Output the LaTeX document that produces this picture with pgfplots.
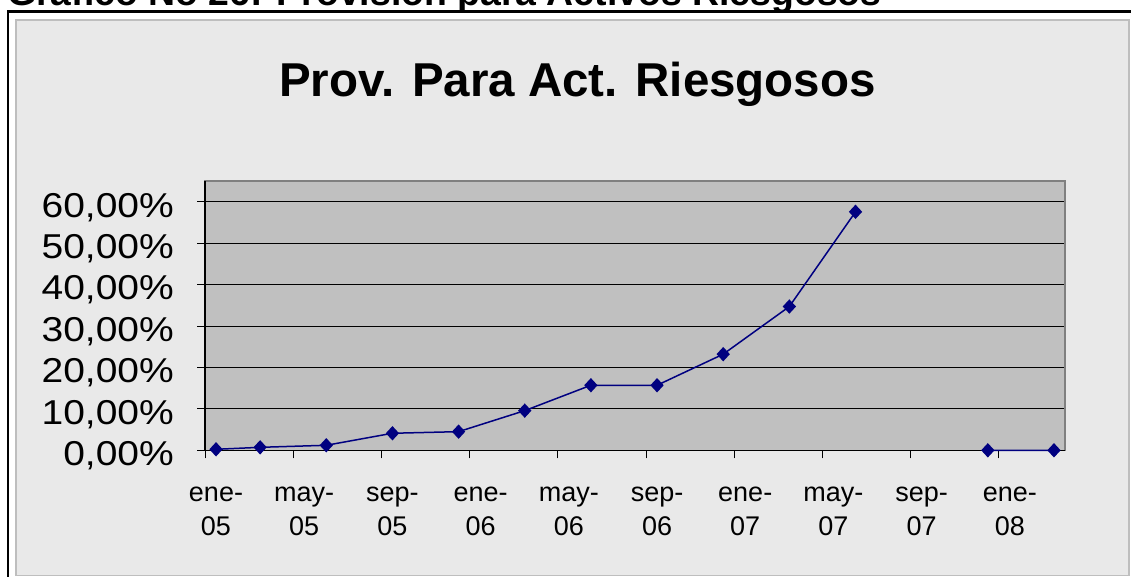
\documentclass[border=0pt]{standalone}
\usepackage{pgfplots}
\pgfplotsset{compat=1.18}
\usepackage{graphicx}
\usepackage{fontspec}
\setmainfont{Liberation Sans}
\definecolor{plotgray}{RGB}{192,192,192}
\definecolor{bggray}{RGB}{233,233,233}
\definecolor{boxgray}{RGB}{190,190,190}
\definecolor{bordergray}{RGB}{128,128,128}
\definecolor{navyc}{RGB}{0,0,128}
\newcommand{\yl}[1]{\scalebox{1.13}[1]{#1}}
\begin{document}
\begin{tikzpicture}[x=1pt,y=1pt]
\clip (0,0) rectangle (1131,577);
\fill[white] (0,0) rectangle (1131,577);
\node[anchor=base west, inner sep=0pt, font=\fontsize{37.4}{40}\selectfont\bfseries] at (7,571) {Gráfico No 26: Provisión para Activos Riesgosos};
\fill[white] (7,0) rectangle (1131,566);
\draw[line width=2.5pt] (7.8,0) -- (7.8,565.7) -- (1132,565.7);
\fill[bggray,draw=boxgray,line width=1.7pt] (15.8,1.5) rectangle (1128.8,556.8);
\node[anchor=base, inner sep=0pt, font=\fontsize{47.5}{50}\selectfont\bfseries] at (577.5,480.3) {Prov. Para Act. Riesgosos};
\begin{axis}[
  at={(205pt,126.7pt)}, anchor=south west, scale only axis,
  width=860pt, height=269.3pt,
  xmin=0, xmax=39, ymin=0, ymax=65,
  clip=false,
  axis background/.style={fill=plotgray},
  axis line style={draw=bordergray, line width=1.5pt},
  ytick={0,10,...,60},
  yticklabels={{\yl{0,00\%}},{\yl{10,00\%}},{\yl{20,00\%}},{\yl{30,00\%}},{\yl{40,00\%}},{\yl{50,00\%}},{\yl{60,00\%}}},
  xtick={0,4,...,36},
  xticklabels={{ene-\\05},{may-\\05},{sep-\\05},{ene-\\06},{may-\\06},{sep-\\06},{ene-\\07},{may-\\07},{sep-\\07},{ene-\\08}},
  ymajorgrids, grid style={black, line width=1pt},
  tick align=outside, major tick length=8pt,
  xtick pos=bottom, ytick pos=left,
  tick style={black, line width=1pt},
  yticklabel style={anchor=base east, inner sep=0pt, font=\fontsize{34.5}{36}\selectfont, xshift=-23pt, yshift=-15.3pt},
  xticklabel style={anchor=north, align=center, inner sep=0pt, font=\fontsize{27}{34.3}\selectfont, xshift=11pt, yshift=-28pt},
  unbounded coords=jump,
]
\draw[black, line width=1.3pt] (rel axis cs:0,1) -- (rel axis cs:0,0) -- (rel axis cs:1,0);
\addplot[navyc, line width=1.5pt, mark=diamond*, mark size=6.1pt, mark options={xscale=1.23, fill=navyc, draw=navyc}] coordinates {
(0.5,0.24) (2.5,0.72) (5.5,1.21) (8.5,4.11) (11.5,4.5) (14.5,9.57) (17.5,15.7) (20.5,15.7) (23.5,23.2) (26.5,34.7) (29.5,57.56) (32.5,nan) (35.5,0) (38.5,0)
};
\end{axis}
\end{tikzpicture}
\end{document}
